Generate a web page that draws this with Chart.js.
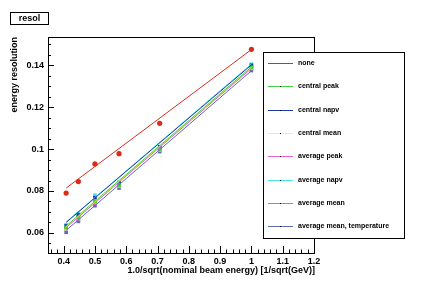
<!DOCTYPE html>
<html>
<head>
<meta charset="utf-8">
<script src="https://cdn.jsdelivr.net/npm/chart.js@4/dist/chart.umd.min.js"></script>
<style>
  html, body { margin: 0; padding: 0; background: #fff; }
  canvas { display: block; }
</style>
</head>
<body>
<canvas id="resol" width="430" height="298"></canvas>
<script>
// 1/sqrt(E) for the beam energies
const xValues = [0.408, 0.447, 0.5, 0.577, 0.707, 1.0]
const fitX = [0.408, 1.0]

const seriesNames = ['none', 'central peak', 'central napv', 'central mean',
  'average peak', 'average napv', 'average mean', 'average mean, temperature']
const seriesColors = ['#dc2c18', '#44d044', '#1c3aa8', '#ffff22',
  '#e060e0', '#44e6e6', '#5cb85c', '#5c6cb0']

const none = [0.0790, 0.0845, 0.0929, 0.0978, 0.1123, 0.1476]
const centralPeak = [0.0625, 0.0672, 0.0750, 0.0828, 0.1000, 0.1390]
const centralNapv = [0.0633, 0.0685, 0.0768, 0.0838, 0.1010, 0.1400]
const centralMean = [0.0620, 0.0670, 0.0748, 0.0826, 0.0998, 0.1388]
const averagePeak = [0.0617, 0.0664, 0.0742, 0.0822, 0.0995, 0.1385]
const averageNapv = [0.0638, 0.0692, 0.0780, 0.0842, 0.1012, 0.1405]
const averageMean = [0.0622, 0.0670, 0.0745, 0.0826, 0.0998, 0.1387]
const averageMeanTemp = [0.0603, 0.0655, 0.0730, 0.0814, 0.0988, 0.1375]

// fitted straight lines, value at first and last point
const fitNone = [0.0814, 0.1475]
const fitCentralPeak = [0.0633, 0.1392]
const fitCentralNapv = [0.0650, 0.1402]
const fitCentralMean = [0.0630, 0.1390]
const fitAveragePeak = [0.0625, 0.1385]
const fitAverageNapv = [0.0652, 0.1406]
const fitAverageMean = [0.0628, 0.1388]
const fitAverageMeanTemp = [0.0612, 0.1374]

const xTicks = [0.4, 0.5, 0.6, 0.7, 0.8, 0.9, 1, 1.1, 1.2]
const xTickLabels = ['0.4', '0.5', '0.6', '0.7', '0.8', '0.9', '1', '1.1', '1.2']
const yTicks = [0.06, 0.08, 0.1, 0.12, 0.14]
const yTickLabels = ['0.06', '0.08', '0.1', '0.12', '0.14']

const points = [none, centralPeak, centralNapv, centralMean, averagePeak, averageNapv, averageMean, averageMeanTemp]
const fits = [fitNone, fitCentralPeak, fitCentralNapv, fitCentralMean, fitAveragePeak, fitAverageNapv, fitAverageMean, fitAverageMeanTemp]

const FONT = 'bold 9px "Liberation Sans", Arial, sans-serif'

function pairs(xs, ys) {
    return xs.map((x, i) => ({x: x, y: ys[i]}))
}

let datasets = []
for (let i = 0; i < seriesNames.length; i++) {
    datasets.push({
        label: seriesNames[i] + ' fit',
        data: pairs(fitX, fits[i]),
        showLine: true,
        borderColor: seriesColors[i],
        borderWidth: 1,
        pointRadius: 0
    })
}
for (let i = 0; i < seriesNames.length; i++) {
    datasets.push({
        label: seriesNames[i],
        data: pairs(xValues, points[i]),
        showLine: false,
        backgroundColor: seriesColors[i],
        borderColor: seriesColors[i],
        borderWidth: 0,
        pointStyle: i === 0 ? 'circle' : 'rect',
        pointRadius: i === 0 ? 2.6 : 2.6
    })
}

const rootFrame = {
    id: 'rootFrame',
    afterDatasetsDraw(chart) {
        const ctx = chart.ctx
        const a = chart.chartArea
        const xs = chart.scales.x
        const ys = chart.scales.y
        ctx.save()
        ctx.strokeStyle = '#000'
        ctx.lineWidth = 1
        ctx.strokeRect(Math.round(a.left) + 0.5, Math.round(a.top) + 0.5,
            Math.round(a.right - a.left), Math.round(a.bottom - a.top))

        ctx.beginPath()
        // x ticks, minor every 0.02
        for (let k = 18; k <= 60; k++) {
            const px = Math.round(xs.getPixelForValue(k * 0.02)) + 0.5
            const len = (k % 5 === 0) ? 7 : 3.5
            ctx.moveTo(px, a.bottom)
            ctx.lineTo(px, a.bottom - len)
        }
        // y ticks, minor every 0.005
        for (let k = 11; k <= 30; k++) {
            const py = Math.round(ys.getPixelForValue(k * 0.005)) + 0.5
            const len = (k % 4 === 0) ? 6 : 3
            ctx.moveTo(a.left, py)
            ctx.lineTo(a.left + len, py)
        }
        ctx.stroke()

        ctx.fillStyle = '#000'
        ctx.font = FONT
        ctx.textAlign = 'center'
        ctx.textBaseline = 'middle'
        xTicks.forEach((v, i) => {
            ctx.fillText(xTickLabels[i], xs.getPixelForValue(v), a.bottom + 9)
        })
        ctx.textAlign = 'right'
        yTicks.forEach((v, i) => {
            ctx.fillText(yTickLabels[i], a.left - 4, ys.getPixelForValue(v))
        })

        // axis titles
        ctx.textAlign = 'right'
        ctx.fillText('1.0/sqrt(nominal beam energy) [1/sqrt(GeV)]', a.right + 1, a.bottom + 18)
        ctx.save()
        ctx.translate(15, a.top)
        ctx.rotate(-Math.PI / 2)
        ctx.textAlign = 'right'
        ctx.fillText('energy resolution', 0, 0)
        ctx.restore()

        // title box
        ctx.fillStyle = '#fff'
        ctx.fillRect(10.5, 12.5, 38, 12)
        ctx.strokeRect(10.5, 12.5, 38, 12)
        ctx.fillStyle = '#000'
        ctx.textAlign = 'center'
        ctx.fillText('resol', 29.5, 19)

        // legend
        const lx = 263.5, ly = 52.5, lw = 141, lh = 186
        ctx.fillStyle = '#fff'
        ctx.fillRect(lx, ly, lw, lh)
        ctx.strokeRect(lx, ly, lw, lh)
        ctx.font = 'bold 7px "Liberation Sans", Arial, sans-serif'
        ctx.textAlign = 'left'
        seriesNames.forEach((name, i) => {
            const y = Math.round(63 + i * 23.3) + 0.5
            ctx.strokeStyle = seriesColors[i]
            ctx.beginPath()
            ctx.moveTo(268, y)
            ctx.lineTo(293, y)
            ctx.stroke()
            if (i > 0) {
                ctx.fillStyle = '#000'
                ctx.fillRect(280, y - 0.5, 1, 1)
            }
            ctx.fillStyle = '#000'
            ctx.fillText(name, 298, y)
        })
        ctx.restore()
    }
}

new Chart(document.getElementById('resol'), {
    type: 'scatter',
    data: {datasets: datasets},
    options: {
        responsive: false,
        devicePixelRatio: 1,
        animation: false,
        layout: {padding: {left: 48, right: 116, top: 37, bottom: 45}},
        plugins: {legend: {display: false}, tooltip: {enabled: false}},
        scales: {
            x: {type: 'linear', min: 0.35, max: 1.2, display: false},
            y: {type: 'linear', min: 0.0504, max: 0.1535, display: false}
        }
    },
    plugins: [rootFrame]
})
</script>
</body>
</html>
